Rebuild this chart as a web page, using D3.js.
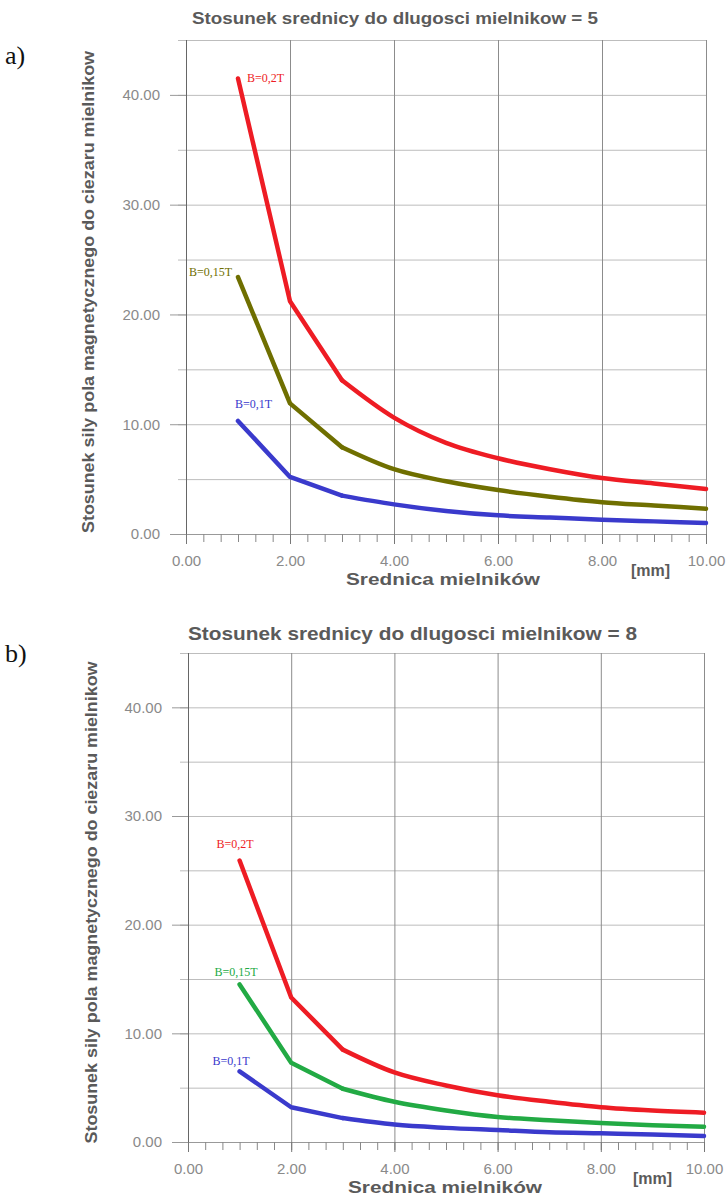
<!DOCTYPE html>
<html>
<head>
<meta charset="utf-8">
<script src="https://cdn.jsdelivr.net/npm/d3@7"></script>
<style>
  body { margin: 0; background: #fff; }
  svg { display: block; }
  .tick text { font-family: "Liberation Sans", Arial, sans-serif; fill: #8a8a8a; }
</style>
</head>
<body>
<script>
// values
var diameters = [1, 2, 3, 4, 5, 6, 7, 8, 9, 10];
var xTicks = [0, 2, 4, 6, 8, 10];
var yTicks = [0, 10, 20, 30, 40];

// a) ratio = 5
var a_B02 = [41.5, 21.2, 14.0, 10.6, 8.3, 6.9, 5.9, 5.1, 4.6, 4.1];
var a_B015 = [23.4, 11.9, 7.9, 5.9, 4.8, 4.0, 3.4, 2.9, 2.6, 2.3];
var a_B01 = [10.3, 5.2, 3.5, 2.7, 2.1, 1.7, 1.5, 1.3, 1.15, 1.0];

// b) ratio = 8
var b_B02 = [25.9, 13.3, 8.5, 6.4, 5.2, 4.3, 3.7, 3.2, 2.9, 2.7];
var b_B015 = [14.5, 7.3, 4.9, 3.7, 2.9, 2.3, 2.0, 1.75, 1.55, 1.4];
var b_B01 = [6.5, 3.2, 2.2, 1.6, 1.3, 1.1, 0.9, 0.8, 0.7, 0.55];

var svg = d3.select("body").append("svg")
  .attr("width", 728)
  .attr("height", 1196);

function drawChart(cfg) {
  var x = d3.scaleLinear().domain([0, 10]).range([cfg.left, cfg.right]);
  var y = d3.scaleLinear().domain([0, 45]).range([cfg.bottom, cfg.top]);
  var g = svg.append("g");

  // horizontal grid (every 5)
  var hg = g.append("g")
    .attr("transform", `translate(${cfg.left},0)`)
    .call(d3.axisLeft(y).tickValues(d3.range(5, 46, 5)).tickSize(-(cfg.right - cfg.left)).tickFormat(""));
  hg.select(".domain").remove();
  hg.selectAll("line").attr("x1", -8).attr("stroke", "#bdbdbd");

  // vertical grid
  var vg = g.append("g")
    .attr("transform", `translate(0,${cfg.bottom})`)
    .call(d3.axisBottom(x).tickValues(xTicks).tickSize(-(cfg.bottom - cfg.top)).tickFormat(""));
  vg.select(".domain").remove();
  vg.selectAll("line").attr("stroke", (d) => d == 0 ? "#666" : "#8c8c8c");

  // y axis
  var ya = g.append("g")
    .attr("transform", `translate(${cfg.left},0)`)
    .call(d3.axisLeft(y).tickValues(yTicks).tickSize(16).tickPadding(10).tickFormat(d3.format(".2f")));
  ya.select(".domain").remove();
  ya.selectAll("line").attr("stroke", "#999");
  ya.selectAll("text").attr("font-size", 15);

  // x axis, minor ticks every 1/3
  var xm = g.append("g")
    .attr("transform", `translate(0,${cfg.bottom})`)
    .call(d3.axisBottom(x).tickValues(d3.range(0, 31).map(d => d / 3)).tickSize(8).tickFormat(""));
  xm.select(".domain").attr("stroke", "#999");
  xm.selectAll("line").attr("stroke", "#888");

  var xa = g.append("g")
    .attr("transform", `translate(0,${cfg.bottom})`)
    .call(d3.axisBottom(x).tickValues(xTicks).tickSize(10).tickPadding(11).tickFormat(d3.format(".2f")));
  xa.select(".domain").remove();
  xa.selectAll("line").attr("stroke", "#777");
  xa.selectAll("text").attr("font-size", 15);

  // title
  g.append("text")
    .attr("x", cfg.left + cfg.titleDx)
    .attr("y", cfg.titleY)
    .attr("font-family", "Liberation Sans, Arial, sans-serif")
    .attr("font-weight", "bold")
    .attr("font-size", cfg.titleSize)
    .attr("fill", "#5a5a5a")
    .attr("textLength", cfg.titleLen)
    .attr("lengthAdjust", "spacingAndGlyphs")
    .text(cfg.title);

  // panel letter
  g.append("text")
    .attr("x", 5)
    .attr("y", cfg.letterY)
    .attr("font-family", "Liberation Serif, Times New Roman, serif")
    .attr("font-size", 26)
    .attr("fill", "#111")
    .text(cfg.letter);

  // y axis label
  g.append("text")
    .attr("transform", `translate(${cfg.yLabelX},${(cfg.top + cfg.bottom) / 2 + 5}) rotate(-90)`)
    .attr("text-anchor", "middle")
    .attr("font-family", "Liberation Sans, Arial, sans-serif")
    .attr("font-weight", "bold")
    .attr("font-size", 16.5)
    .attr("fill", "#5a5a5a")
    .attr("textLength", 482)
    .attr("lengthAdjust", "spacingAndGlyphs")
    .text("Stosunek sily pola magnetycznego do ciezaru mielnikow");

  // x axis label
  g.append("text")
    .attr("x", cfg.left + 160)
    .attr("y", cfg.bottom + 51)
    .attr("font-family", "Liberation Sans, Arial, sans-serif")
    .attr("font-weight", "bold")
    .attr("font-size", 17)
    .attr("fill", "#5a5a5a")
    .attr("textLength", 194)
    .attr("lengthAdjust", "spacingAndGlyphs")
    .text("Srednica mielników");

  g.append("text")
    .attr("x", cfg.left + 445)
    .attr("y", cfg.bottom + 42)
    .attr("font-family", "Liberation Sans, Arial, sans-serif")
    .attr("font-weight", "bold")
    .attr("font-size", 16)
    .attr("fill", "#5a5a5a")
    .text("[mm]");

  // curves: straight segments up to d=3, smooth after that
  var pts = function(vals) { return vals.map((v, i) => [diameters[i], v]); };
  var lineStraight = d3.line().x(d => x(d[0])).y(d => y(d[1]));
  var lineSmooth = d3.line().x(d => x(d[0])).y(d => y(d[1])).curve(d3.curveMonotoneX);

  cfg.series.forEach(function(s) {
    var p = pts(s.values);
    [[lineStraight, p.slice(0, 3)], [lineSmooth, p.slice(2)]].forEach(function(part) {
      g.append("path")
        .datum(part[1])
        .attr("fill", "none")
        .attr("stroke", s.color)
        .attr("stroke-width", 4.5)
        .attr("stroke-linecap", "round")
        .attr("stroke-linejoin", "round")
        .attr("d", part[0]);
    });

    g.append("text")
      .attr("x", x(diameters[0]) + s.dx)
      .attr("y", y(s.values[0]) + s.dy)
      .attr("text-anchor", s.anchor)
      .attr("font-family", "Liberation Serif, Times New Roman, serif")
      .attr("font-size", 12)
      .attr("fill", s.color)
      .text(s.label);
  });
}

drawChart({
  left: 186, right: 706, top: 40, bottom: 534,
  title: "Stosunek srednicy do dlugosci mielnikow = 5",
  titleDx: 6, titleY: 24, titleSize: 16.5, titleLen: 406,
  letter: "a)", letterY: 64, yLabelX: 94,
  series: [
    { values: a_B02, color: "#ee1c24", label: "B=0,2T", dx: 9, dy: 4, anchor: "start" },
    { values: a_B015, color: "#6f6f00", label: "B=0,15T", dx: -6, dy: -1, anchor: "end" },
    { values: a_B01, color: "#3a3acc", label: "B=0,1T", dx: -3, dy: -13, anchor: "start" }
  ]
});

drawChart({
  left: 188, right: 704, top: 653, bottom: 1142,
  title: "Stosunek srednicy do dlugosci mielnikow = 8",
  titleDx: 0, titleY: 640, titleSize: 18, titleLen: 449,
  letter: "b)", letterY: 662, yLabelX: 97,
  series: [
    { values: b_B02, color: "#ee1c24", label: "B=0,2T", dx: -23, dy: -13, anchor: "start" },
    { values: b_B015, color: "#22aa44", label: "B=0,15T", dx: -25, dy: -8, anchor: "start" },
    { values: b_B01, color: "#3a3acc", label: "B=0,1T", dx: -27, dy: -6, anchor: "start" }
  ]
});
</script>
</body>
</html>
